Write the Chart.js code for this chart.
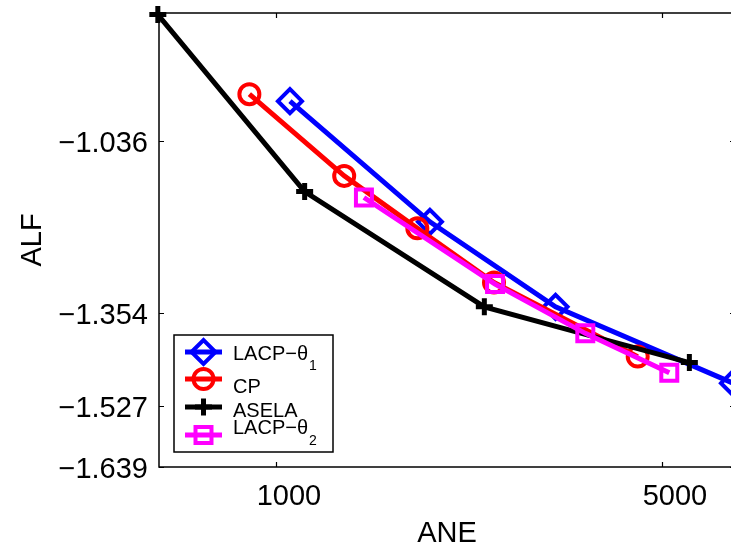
<!DOCTYPE html>
<html><head><meta charset="utf-8">
<script src="https://cdn.jsdelivr.net/npm/chart.js@4/dist/chart.umd.min.js"></script>
<style>
html,body{margin:0;padding:0;overflow:hidden;background:#fff;width:731px;height:545px}
#wrap{position:absolute;left:0;top:0;width:740px;height:545px}
</style>
</head><body><div id="wrap"><canvas id="c" width="740" height="545"></canvas></div>
<script>
// ---- data ----
const xTickValues = [1000, 5000];
const yTickValues = [-1.639, -1.527, -1.354, -1.036];
const xRange = [614, 6780];
const yRange = [-1.639, -0.8];
const seriesLabels = ['LACP−θ₁', 'CP', 'ASELA', 'LACP−θ₂'];
const lacp1ANE = [1060, 1900, 3208, 6724];
const lacp1ALF = [-0.963, -1.186, -1.343, -1.484];
const cpANE = [895, 1329, 1803, 2482, 4519];
const cpALF = [-0.950, -1.101, -1.198, -1.298, -1.435];
const aselaANE = [611, 1127, 2384, 5605];
const aselaALF = [-0.803, -1.130, -1.343, -1.446];
const lacp2ANE = [1443, 2493, 3632, 5155];
const lacp2ALF = [-1.141, -1.301, -1.392, -1.465];

const FONT = '"Liberation Sans", Arial, Helvetica, sans-serif';
const toPts = (xs, ys) => xs.map((x, i) => ({x: x, y: ys[i]}));

function ds(label, xs, ys, color, style, radius, pbw, order) {
  return {
    label: label, data: toPts(xs, ys), borderColor: color, backgroundColor: 'rgba(0,0,0,0)',
    borderWidth: 5, pointStyle: style, pointRadius: radius, pointBorderWidth: pbw,
    pointBorderColor: color, pointBackgroundColor: 'rgba(0,0,0,0)', tension: 0,
    clip: false, order: order
  };
}

const framePlugin = {
  id: 'frame',
  afterDatasetsDraw(chart) {
    const {ctx, chartArea: a, scales} = chart;
    ctx.save();
    ctx.strokeStyle = '#000';
    ctx.lineWidth = 1.5;
    ctx.strokeRect(a.left, a.top, a.right - a.left, a.bottom - a.top);
    ctx.lineWidth = 1.2;
    const tl = 5;
    ctx.beginPath();
    scales.x.ticks.forEach(t => {
      const p = Math.round(scales.x.getPixelForValue(t.value)) + 0.5;
      ctx.moveTo(p, a.bottom); ctx.lineTo(p, a.bottom - tl);
      ctx.moveTo(p, a.top); ctx.lineTo(p, a.top + tl);
    });
    scales.y.ticks.forEach(t => {
      const p = Math.round(scales.y.getPixelForValue(t.value)) + 0.5;
      ctx.moveTo(a.left, p); ctx.lineTo(a.left + tl, p);
      ctx.moveTo(a.right, p); ctx.lineTo(a.right - tl, p);
    });
    ctx.stroke();
    ctx.restore();
  }
};

const SUBS = {'₀':'0','₁':'1','₂':'2','₃':'3','₄':'4','₅':'5','₆':'6','₇':'7','₈':'8','₉':'9'};

function drawMarker(ctx, style, r, x, y) {
  if (Chart.helpers && Chart.helpers.drawPoint) {
    Chart.helpers.drawPoint(ctx, {pointStyle: style, radius: r, rotation: 0, borderWidth: ctx.lineWidth}, x, y);
    return;
  }
  ctx.beginPath();
  if (style === 'circle') ctx.arc(x, y, r, 0, Math.PI * 2);
  else if (style === 'rectRot') { ctx.moveTo(x - r, y); ctx.lineTo(x, y - r); ctx.lineTo(x + r, y); ctx.lineTo(x, y + r); ctx.closePath(); }
  else if (style === 'rect') { const s = r * Math.SQRT1_2; ctx.rect(x - s, y - s, 2 * s, 2 * s); }
  else if (style === 'cross') { ctx.moveTo(x, y - r); ctx.lineTo(x, y + r); ctx.moveTo(x - r, y); ctx.lineTo(x + r, y); }
  ctx.stroke();
}

const legendPlugin = {
  id: 'matlabLegend',
  afterDraw(chart) {
    const {ctx, chartArea: a} = chart;
    const l = a.left + 15, t = 335, w = 159, h = 117;
    const markerY = [17, 44, 72, 100];
    const textY = [25, 58, 82, 99];
    const subY = [35, 68, 92, 110];
    ctx.save();
    ctx.fillStyle = '#fff';
    ctx.fillRect(l, t, w, h);
    ctx.strokeStyle = '#000';
    ctx.lineWidth = 1.5;
    ctx.strokeRect(l, t, w, h);
    chart.data.datasets.forEach((d, i) => {
      const y = t + markerY[i];
      ctx.strokeStyle = d.borderColor;
      ctx.lineWidth = 5;
      ctx.beginPath();
      ctx.moveTo(l + 11, y); ctx.lineTo(l + 48, y);
      ctx.stroke();
      ctx.fillStyle = 'rgba(0,0,0,0)';
      ctx.lineWidth = d.pointBorderWidth;
      drawMarker(ctx, d.pointStyle, d.pointRadius, l + 29.5, y);
      let txt = d.label, sub = '';
      const last = txt.slice(-1);
      if (SUBS[last]) { sub = SUBS[last]; txt = txt.slice(0, -1); }
      ctx.fillStyle = '#000';
      ctx.textAlign = 'left';
      ctx.textBaseline = 'alphabetic';
      ctx.font = '20px ' + FONT;
      ctx.fillText(txt, l + 59, t + textY[i]);
      if (sub) {
        const tw = ctx.measureText(txt).width;
        ctx.font = '14px ' + FONT;
        ctx.fillText(sub, l + 59 + tw + 1, t + subY[i]);
      }
    });
    ctx.restore();
  }
};

const fmtY = v => (v < 0 ? '−' : '') + Math.abs(v).toFixed(3);

new Chart(document.getElementById('c'), {
  type: 'line',
  data: {
    datasets: [
      ds(seriesLabels[0], lacp1ANE, lacp1ALF, '#0000ff', 'rectRot', 12, 4, 3),
      ds(seriesLabels[1], cpANE, cpALF, '#ff0000', 'circle', 10, 4, 2),
      ds(seriesLabels[2], aselaANE, aselaALF, '#000000', 'cross', 8.5, 5, 1),
      ds(seriesLabels[3], lacp2ANE, lacp2ALF, '#ff00ff', 'rect', 11.3, 4, 0)
    ]
  },
  options: {
    responsive: false, animation: false, devicePixelRatio: 1,
    layout: {autoPadding: false, padding: {left: 0, top: 13, right: 5, bottom: 0}},
    plugins: {legend: {display: false}, tooltip: {enabled: false}},
    scales: {
      x: {
        type: 'logarithmic', min: xRange[0], max: xRange[1],
        afterBuildTicks: s => { s.ticks = xTickValues.map(v => ({value: v})); },
        afterFit: s => { s.height = 78; s.paddingLeft = 0; s.paddingRight = 0; },
        grid: {display: false, drawTicks: false}, border: {display: false},
        ticks: {callback: v => String(v), font: {family: FONT, size: 29}, color: '#000',
                padding: 13, labelOffset: 13, maxRotation: 0, autoSkip: false},
        title: {display: true, text: 'ANE', color: '#000', font: {family: FONT, size: 29, lineHeight: 1},
                padding: {top: 0, bottom: -3}}
      },
      y: {
        type: 'linear', min: yRange[0], max: yRange[1],
        afterBuildTicks: s => { s.ticks = yTickValues.map(v => ({value: v})); },
        afterFit: s => { s.width = 159; s.paddingTop = 0; s.paddingBottom = 0; },
        grid: {display: false, drawTicks: false}, border: {display: false},
        ticks: {callback: fmtY, font: {family: FONT, size: 29}, color: '#000',
                padding: 11, labelOffset: 3, autoSkip: false},
        title: {display: true, text: 'ALF', color: '#000', font: {family: FONT, size: 29, lineHeight: 1},
                padding: {top: 18.5, bottom: 0}}
      }
    }
  },
  plugins: [framePlugin, legendPlugin]
});
</script>
</body></html>
